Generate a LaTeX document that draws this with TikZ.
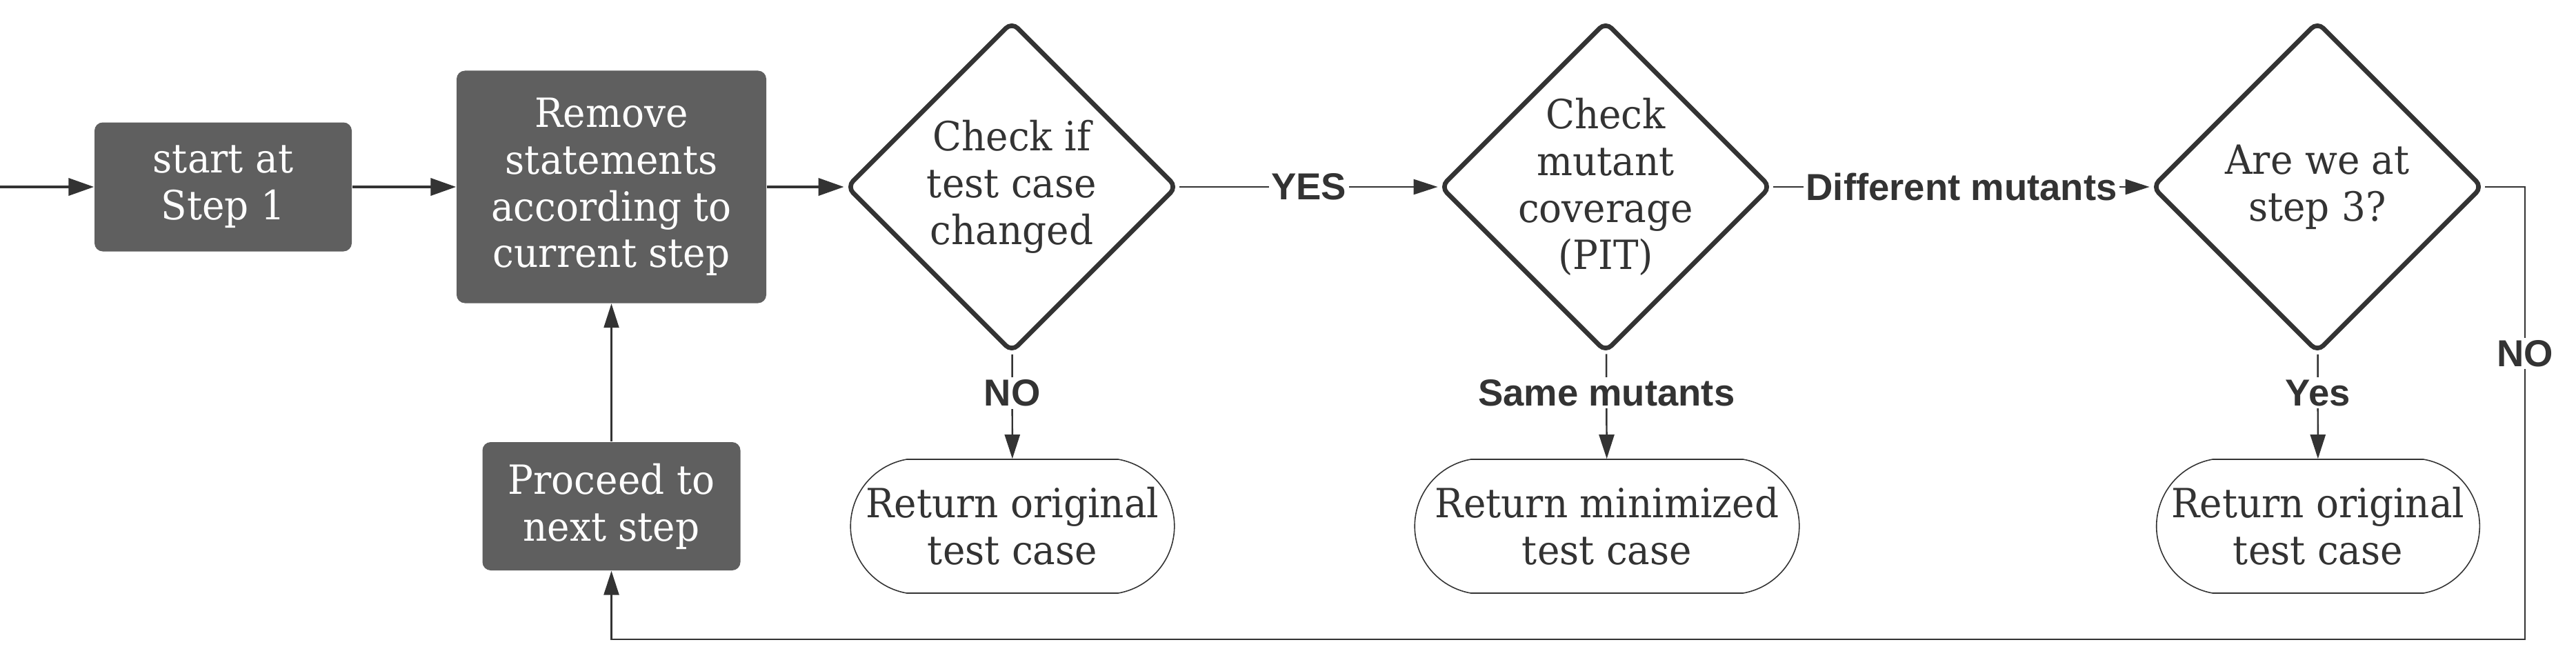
\documentclass[tikz,border=0pt]{standalone}
\usepackage{fontspec}
\setmainfont{DejaVu Serif}[FakeStretch=0.94]
\newfontfamily\labelfont{Liberation Sans}
\usetikzlibrary{arrows.meta,shapes.geometric,shapes.misc}

\definecolor{ink}{HTML}{333333}
\definecolor{boxgray}{HTML}{5F5F5F}
\newcommand\boxtext{\fontsize{16.6}{19.3}\selectfont}
\newcommand\lbltext{\labelfont\bfseries\fontsize{15.5}{18}\selectfont}

\begin{document}
\begin{tikzpicture}[
    procbox/.style={rectangle, rounded corners=0.12cm, fill=boxgray, text=white,
        align=center, font=\boxtext},
    decision/.style={diamond, draw=ink, line width=1.9pt, fill=white,
        rounded corners=0.12cm, minimum width=4.8cm, minimum height=4.8cm,
        inner sep=-6pt, align=center, font=\boxtext, text=ink},
    endbox/.style={rounded rectangle, rounded rectangle arc length=160,
        draw=ink, line width=0.45pt, minimum height=1.94cm, align=center,
        font=\boxtext, text=ink},
    flow/.style={draw=ink, line width=1.1pt, -{Triangle[length=0.37cm,width=0.25cm]}},
    link/.style={draw=ink, line width=0.7pt, -{Triangle[length=0.35cm,width=0.22cm]}},
    answer/.style={font=\lbltext, text=ink, fill=white, inner sep=1pt},
]
    \useasboundingbox (0,0) rectangle (37.35,9.69);

    \node[procbox, minimum width=3.73cm, minimum height=1.87cm] (start) at (3.235,6.98) {start at\\Step 1};
    \node[procbox, minimum width=4.49cm, minimum height=3.37cm] (remove) at (8.865,6.98) {Remove\\statements\\according to\\current step};
    \node[procbox, minimum width=3.74cm, minimum height=1.86cm] (proceed) at (8.865,2.35) {Proceed to\\next step};

    \node[decision] (changed) at (14.67,6.98) {Check if\\test case\\changed};
    \node[decision] (coverage) at (23.28,6.98) {Check\\mutant\\coverage\\(PIT)};
    \node[decision] (laststep) at (33.60,6.98) {Are we at\\step 3?};

    \node[endbox, minimum width=4.93cm] (retorig) at (14.68,2.06) {Return original\\test case};
    \node[endbox, minimum width=5.81cm] (retmin) at (23.30,2.06) {Return minimized\\test case};
    \node[endbox, minimum width=4.92cm] (retlast) at (33.61,2.06) {Return original\\test case};

    \coordinate (entry) at (0,6.98);
    \coordinate (corner) at (36.61,0.42);

    \draw[flow] (entry) -- (start);
    \draw[flow] (start) -- (remove);
    \draw[flow] (remove) -- (changed);
    \draw[link] (changed) -- node[answer] {YES} (coverage);
    \draw[link] (coverage) -- node[answer] {Different mutants} (laststep);
    \draw[link] (changed) -- node[answer, pos=0.37] {NO} (retorig);
    \draw[link] (coverage) -- node[answer, pos=0.37] {Same mutants} (retmin);
    \draw[link] (laststep) -- node[answer, pos=0.37] {Yes} (retlast);
    \draw[link, line width=0.8pt] (laststep.east) -| node[answer, pos=0.684] {NO} (corner) -| (proceed.south);
    \draw[link, line width=0.65pt] (proceed) -- (remove);
\end{tikzpicture}
\end{document}
